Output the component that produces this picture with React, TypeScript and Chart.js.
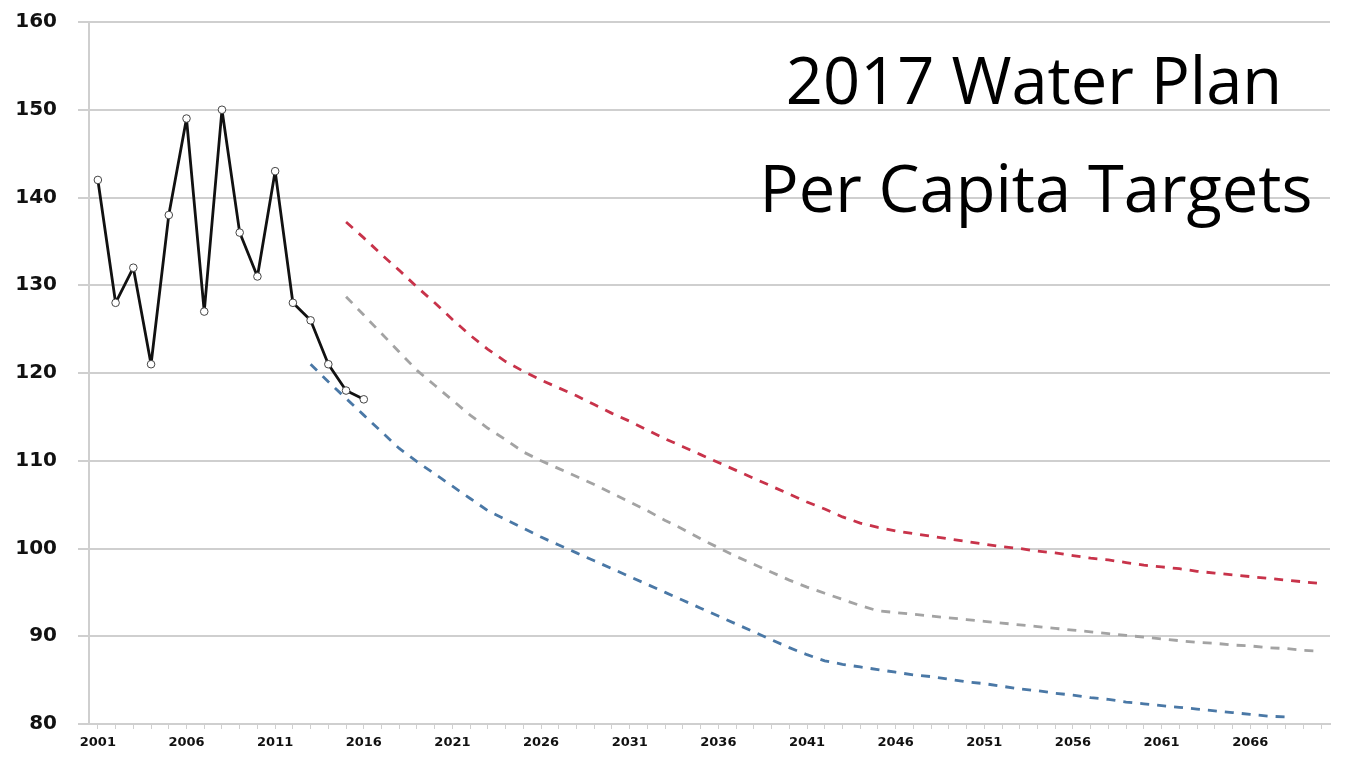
import React, { useEffect, useRef } from "react";
import { Chart, registerables } from "chart.js";

Chart.register(...registerables);

const years: string[] = [];
for (let y = 2001; y <= 2070; y++) years.push(String(y));

// Historical per-capita use, 2001-2016
const historical = [142, 128, 132, 121, 138, 149, 127, 150, 136, 131, 143, 128, 126, 121, 118, 117];

// Red target, 2015-2070
const redTarget = [
  137.2, 135.4, 133.5, 131.7, 129.8, 128.0, 126.1, 124.3, 122.7, 121.3,
  120.2, 119.2, 118.3, 117.4, 116.4, 115.4, 114.5, 113.5, 112.5, 111.6,
  110.7, 109.8, 108.9, 108.0, 107.1, 106.2, 105.3, 104.5, 103.6, 102.9,
  102.4, 102.0, 101.7, 101.4, 101.1, 100.8, 100.5, 100.2, 100.0, 99.7,
  99.5, 99.2, 98.9, 98.7, 98.4, 98.1, 97.9, 97.7, 97.4, 97.2,
  97.0, 96.8, 96.6, 96.4, 96.2, 96.0,
];

// Gray target, 2015-2070
const grayTarget = [
  128.7, 126.6, 124.5, 122.4, 120.3, 118.6, 116.9, 115.2, 113.7, 112.4,
  111.0, 110.0, 109.1, 108.2, 107.3, 106.3, 105.3, 104.3, 103.2, 102.2,
  101.1, 100.1, 99.1, 98.2, 97.3, 96.4, 95.6, 94.9, 94.2, 93.5,
  92.9, 92.7, 92.5, 92.3, 92.1, 91.9, 91.7, 91.5, 91.3, 91.1,
  90.9, 90.7, 90.5, 90.3, 90.1, 89.9, 89.7, 89.5, 89.3, 89.2,
  89.0, 88.9, 88.7, 88.6, 88.4, 88.3,
];

// Blue target, 2013-2068
const blueTarget = [
  121.0, 119.0, 117.1, 115.2, 113.3, 111.4, 109.9, 108.5, 107.1, 105.7,
  104.3, 103.3, 102.3, 101.3, 100.4, 99.5, 98.6, 97.7, 96.8, 95.9,
  95.0, 94.1, 93.2, 92.3, 91.4, 90.5, 89.6, 88.7, 87.9, 87.2,
  86.8, 86.5, 86.2, 85.9, 85.6, 85.4, 85.1, 84.8, 84.6, 84.3,
  84.0, 83.8, 83.5, 83.3, 83.0, 82.8, 82.5, 82.3, 82.1, 81.9,
  81.7, 81.5, 81.3, 81.1, 80.9, 80.8,
];

const yTicks = [80, 90, 100, 110, 120, 130, 140, 150, 160];

function place(values: number[], startYear: number): (number | null)[] {
  return years.map((y) => {
    const i = Number(y) - startYear;
    return i >= 0 && i < values.length ? values[i] : null;
  });
}

export default function App() {
  const ref = useRef<HTMLCanvasElement | null>(null);

  useEffect(() => {
    if (!ref.current) return;
    const gridColor = "#cfcfcf";
    const chart = new Chart(ref.current, {
      type: "line",
      data: {
        labels: years,
        datasets: [
          {
            label: "Historical",
            data: place(historical, 2001),
            borderColor: "#111111",
            borderWidth: 2.8,
            borderJoinStyle: "round",
            pointBackgroundColor: "#ffffff",
            pointBorderColor: "#444444",
            pointBorderWidth: 1,
            pointRadius: 3.8,
            tension: 0,
          },
          {
            label: "Red",
            data: place(redTarget, 2015),
            borderColor: "#c8334a",
            borderWidth: 2.8,
            borderDash: [9, 8],
            pointRadius: 0,
            tension: 0,
          },
          {
            label: "Gray",
            data: place(grayTarget, 2015),
            borderColor: "#a3a3a3",
            borderWidth: 2.8,
            borderDash: [9, 8],
            pointRadius: 0,
            tension: 0,
          },
          {
            label: "Blue",
            data: place(blueTarget, 2013),
            borderColor: "#4a78a6",
            borderWidth: 2.8,
            borderDash: [9, 8],
            pointRadius: 0,
            tension: 0,
          },
        ],
      },
      options: {
        animation: false,
        responsive: false,
        maintainAspectRatio: false,
        layout: { padding: { top: 22, right: 22, left: 0, bottom: 0 } },
        plugins: { legend: { display: false }, tooltip: { enabled: false } },
        scales: {
          x: {
            type: "category",
            offset: true,
            grid: {
              display: true,
              drawOnChartArea: false,
              drawTicks: true,
              tickLength: 5,
              color: gridColor,
              lineWidth: 1,
            },
            border: { display: true, color: gridColor, width: 2 },
            ticks: {
              autoSkip: false,
              maxRotation: 0,
              minRotation: 0,
              padding: 6,
              color: "#111111",
              font: { family: "DejaVu Sans", weight: "bold", size: 13 },
              callback: function (_v: any, i: number) {
                return i % 5 === 0 ? years[i] : "";
              },
            },
            afterFit: (s: any) => {
              s.height = 35;
              s.paddingLeft = 0;
              s.paddingRight = 0;
            },
          },
          y: {
            min: 80,
            max: 160,
            afterBuildTicks: (s: any) => {
              s.ticks = yTicks.map((v) => ({ value: v }));
            },
            grid: {
              color: gridColor,
              lineWidth: 2,
              tickLength: 11,
              drawTicks: true,
            },
            border: { display: true, color: gridColor, width: 2 },
            ticks: {
              padding: 21,
              color: "#111111",
              font: { family: "DejaVu Sans", weight: "bold", size: 20 },
            },
            afterFit: (s: any) => {
              s.width = 89;
              s.paddingTop = 0;
              s.paddingBottom = 0;
            },
          },
        },
      },
    });
    return () => chart.destroy();
  }, []);

  const titleStyle: React.CSSProperties = {
    position: "absolute",
    transform: "translateX(-50%)",
    whiteSpace: "nowrap",
    fontFamily: "'Open Sans', sans-serif",
    fontSize: 65,
    lineHeight: 1,
    color: "#000000",
    fontWeight: 400,
  };

  return (
    <div style={{ position: "absolute", left: 0, top: 0, width: 1352, height: 759, background: "#ffffff" }}>
      <canvas ref={ref} width={1352} height={759} style={{ display: "block" }} />
      <div style={{ ...titleStyle, left: 1034, top: 47 }}>2017 Water Plan</div>
      <div style={{ ...titleStyle, left: 1036, top: 155 }}>Per Capita Targets</div>
    </div>
  );
}
